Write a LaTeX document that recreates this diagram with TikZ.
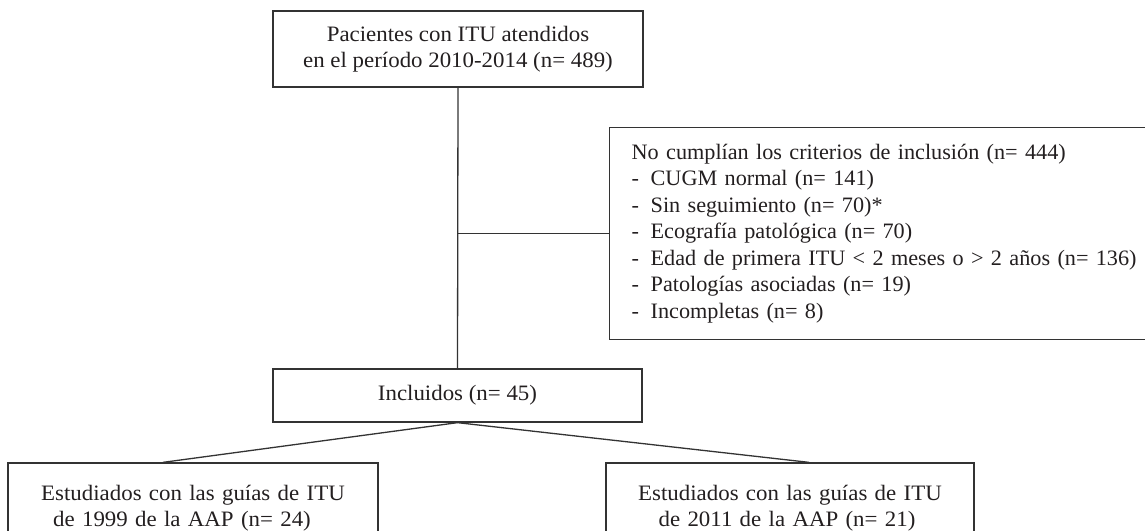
\documentclass[tikz,border=0pt]{standalone}
\usepackage{fontspec}
\setmainfont{Liberation Serif}[FakeStretch=1.04]
\newfontfamily\excfont{Liberation Serif}[FakeStretch=1.01]
\definecolor{ln}{HTML}{333333}
\definecolor{tx}{HTML}{231F20}
\begin{document}
\begin{tikzpicture}[x=1pt,y=1pt,
  box/.style={draw=ln, line width=1.3pt, text=tx, font=\fontsize{22}{26.5}\selectfont, inner sep=0pt, align=center},
  conn/.style={draw=ln, line width=1.3pt}]
\useasboundingbox (0,0) rectangle (1145,-530);
\clip (0,0) rectangle (1145,-530);
\fill[white] (0,0) rectangle (1145,-530);
\node[box, minimum width=370, minimum height=76] (top) at (458,-49)
  {Pacientes con ITU atendidos\\en el período 2010-2014 (n= 489)};
\node[box, minimum width=369, minimum height=53] (inc) at (457.5,-395.5)
  {Incluidos (n= 45)};
\node[box, font=\excfont\fontsize{22}{26.5}\selectfont, anchor=north west, text width=580, align=left, inner xsep=22, minimum height=212] (exc) at (609,-127)
  {No cumplían los criterios de inclusión (n= 444)\\
   \makebox[19pt][l]{-}CUGM normal (n= 141)\\
   \makebox[19pt][l]{-}Sin seguimiento (n= 70)*\\
   \makebox[19pt][l]{-}Ecografía patológica (n= 70)\\
   \makebox[19pt][l]{-}Edad de primera ITU < 2 meses o > 2 años (n= 136)\\
   \makebox[19pt][l]{-}Patologías asociadas (n= 19)\\
   \makebox[19pt][l]{-}Incompletas (n= 8)};
\node[box, minimum width=370, minimum height=90, text width=370] (bl) at (193,-508)
  {Estudiados con las guías de ITU\hspace*{22pt}\\de 1999 de la AAP (n= 24)\hspace*{22pt}};
\node[box, minimum width=368, minimum height=90, text width=368] (br) at (790,-508)
  {Estudiados con las guías de ITU\hspace*{6pt}\\de 2011 de la AAP (n= 21)\hspace*{6pt}};
\draw[conn] (top.south) -- (inc.north);
\coordinate (j) at (top.south |- exc.west);
\draw[conn] (j) -- (exc.west);
\draw[conn] (inc.south) -- ([xshift=-30pt]bl.north);
\draw[conn] (inc.south) -- ([xshift=19pt]br.north);
\end{tikzpicture}
\end{document}
